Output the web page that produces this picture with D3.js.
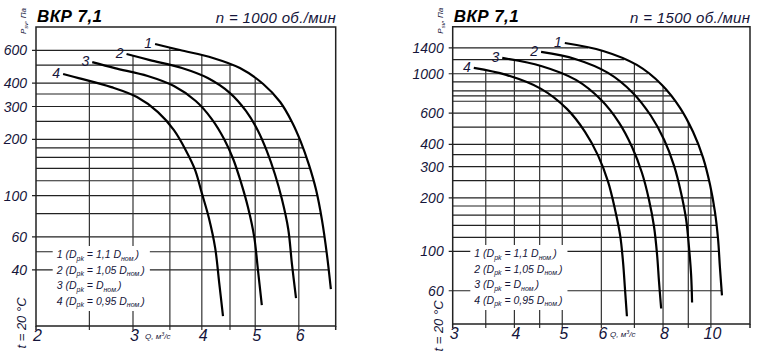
<!DOCTYPE html>
<html lang="ru">
<head>
<meta charset="UTF-8">
<title>ВКР 7,1</title>
<script src="https://d3js.org/d3.v7.min.js"></script>
<style>
  body { margin: 0; background: #fff; }
  svg { display: block; font-family: "Liberation Sans", Arial, sans-serif; }
</style>
</head>
<body>
<div id="chart"></div>
<script>
// curves: [Q m3/s, p Pa], curve 1..4
const curves1000 = [
  [[3.29,649],[3.65,602],[4.19,546],[4.69,482],[5.17,396],[5.55,317],[5.83,248],[6.05,194],[6.26,146],[6.45,107],[6.61,73.9],[6.75,48],[6.86,31.5]],
  [[2.92,573],[3.22,532],[3.68,482],[4.10,426],[4.50,354],[4.81,284],[5.06,222],[5.25,173],[5.43,130],[5.59,95.7],[5.74,66.2],[5.83,42.9],[5.93,28.2]],
  [[2.53,519],[2.78,482],[3.19,437],[3.56,386],[3.90,321],[4.17,257],[4.39,201],[4.56,157],[4.71,118],[4.85,86.8],[4.98,59.9],[5.06,39.4],[5.14,25.9]],
  [[2.24,448],[2.39,426],[2.74,381],[3.05,337],[3.33,280],[3.56,224],[3.74,175],[3.89,137],[4.00,103],[4.12,75.8],[4.23,52.3],[4.30,34.4],[4.37,22.6]]
];
const curves1500 = [
  [[5.06,1490],[6.05,1344],[7.08,1121],[7.96,865],[8.66,643],[9.20,471],[9.64,337],[9.96,237],[10.19,167],[10.34,117],[10.43,81.1],[10.53,56.5]],
  [[4.53,1327],[5.31,1211],[6.19,1011],[6.95,780],[7.56,580],[8.04,425],[8.42,304],[8.70,214],[8.91,151],[9.03,105],[9.12,73.2],[9.16,51.6]],
  [[3.78,1227],[4.53,1106],[5.33,923],[5.99,713],[6.52,529],[6.92,388],[7.25,277],[7.49,196],[7.67,138],[7.78,96],[7.85,67.7],[7.93,47.7]],
  [[3.31,1079],[3.85,985],[4.53,822],[5.11,634],[5.56,471],[5.91,346],[6.19,247],[6.39,174],[6.55,123],[6.64,86.5],[6.70,61],[6.76,43.1]]
];

// axis values
const xTicks1000 = [2, 3, 4, 5, 6];
const xGrid1000 = [2.5, 3, 3.5, 4, 4.5, 5, 6];
const yTicks1000 = [40, 60, 100, 200, 300, 400, 600];
const yGrid1000 = [600, 500, 400, 350, 300, 250, 200, 180, 160, 140, 120, 100, 80, 60, 50, 40];

const xTicks1500 = [3, 4, 5, 6, 8, 10];
const xGrid1500 = [3.5, 4, 4.5, 5, 6, 7, 8, 9, 10];
const yTicks1500 = [60, 100, 200, 300, 400, 600, 1000, 1400];
const yGrid1500 = [1400, 1200, 1000, 900, 800, 750, 700, 600, 500, 400, 350, 300, 250, 200, 180, 160, 140, 120, 100, 60];

const curveNames = ["1", "2", "3", "4"];
const legendRatio = ["1,1 ", "1,05 ", "", "0,95 "];

const width = 757, height = 351;
const ink = "#15153a";

const svg = d3.select("#chart").append("svg")
  .attr("width", width)
  .attr("height", height);

function drawPanel(c) {
  const x = d3.scaleLog().domain(c.qDomain).range([c.left, c.right]);
  const y = d3.scaleLog().domain(c.pDomain).range([c.bottom, c.top]);
  const g = svg.append("g");

  // pixel polylines, used to stop the grid at the curves
  const pts = c.curves.map(cv => cv.map(d => [x(d[0]), y(d[1])]));
  function xAtY(pl, yy) {
    for (let i = 1; i < pl.length; i++) {
      const a = pl[i - 1], b = pl[i];
      if ((yy - a[1]) * (yy - b[1]) <= 0) {
        return a[0] + (b[0] - a[0]) * (yy - a[1]) / ((b[1] - a[1]) || 1);
      }
    }
    return yy < pl[0][1] ? pl[0][0] : pl[pl.length - 1][0];
  }
  function yAtX(pl, xx) {
    if (xx < pl[0][0] || xx > pl[pl.length - 1][0]) return null;
    for (let i = 1; i < pl.length; i++) {
      const a = pl[i - 1], b = pl[i];
      if (xx >= a[0] && xx <= b[0]) {
        return a[1] + (b[1] - a[1]) * (xx - a[0]) / ((b[0] - a[0]) || 1);
      }
    }
    return null;
  }

  // horizontal grid
  g.append("g").selectAll("line")
    .data(c.yGrid)
    .join("line")
    .attr("x1", d => c.yTicks.includes(d) ? c.left - 4 : c.left)
    .attr("x2", d => xAtY(pts[0], y(d)))
    .attr("y1", d => y(d))
    .attr("y2", d => y(d))
    .attr("stroke", "#222")
    .attr("stroke-width", 1.2);

  // vertical grid
  g.append("g").selectAll("line")
    .data(c.xGrid)
    .join("line")
    .attr("x1", d => x(d))
    .attr("x2", d => x(d))
    .attr("y1", d => d3.min(pts.map(pl => yAtX(pl, x(d))).filter(v => v !== null)))
    .attr("y2", c.bottom + 4)
    .attr("stroke", "#333")
    .attr("stroke-width", 1.2);

  // frame
  g.append("path")
    .attr("d", `M${c.left},${c.top}H${c.right}V${c.bottom}H${c.left}Z`)
    .attr("fill", "none")
    .attr("stroke", "#222")
    .attr("stroke-width", 1.5);
  g.selectAll("line.edge")
    .data([c.qDomain[0], c.qDomain[1]])
    .join("line")
    .attr("class", "edge")
    .attr("x1", d => x(d)).attr("x2", d => x(d))
    .attr("y1", c.bottom).attr("y2", c.bottom + 4)
    .attr("stroke", "#222").attr("stroke-width", 1.5);

  // legend
  const leg = g.append("g");
  const legText = leg.selectAll("text")
    .data(curveNames)
    .join("text")
    .attr("x", c.legendX)
    .attr("y", (d, i) => c.legendY + i * 15.5)
    .attr("font-size", 10.5)
    .attr("font-style", "italic")
    .attr("fill", ink);
  legText.each(function(d, i) {
    const t = d3.select(this);
    t.append("tspan").text(`${d} (D`);
    t.append("tspan").attr("dy", 2.5).attr("font-size", 7).text("pk");
    t.append("tspan").attr("dy", -2.5).text(` = ${legendRatio[i]}D`);
    t.append("tspan").attr("dy", 2.5).attr("font-size", 7).text("ном.");
    t.append("tspan").attr("dy", -2.5).text(")");
  });
  const bb = leg.node().getBBox();
  leg.insert("rect", "text")
    .attr("x", bb.x - 3).attr("y", bb.y - 2)
    .attr("width", bb.width + 8).attr("height", bb.height + 4)
    .attr("fill", "#fff");

  // curves
  const line = d3.line()
    .x(d => x(d[0]))
    .y(d => y(d[1]))
    .curve(d3.curveCatmullRom.alpha(0.5));
  g.append("g").selectAll("path")
    .data(c.curves)
    .join("path")
    .attr("d", line)
    .attr("fill", "none")
    .attr("stroke", "#000")
    .attr("stroke-width", 2.2);

  // curve numbers
  g.append("g").selectAll("text")
    .data(c.curves)
    .join("text")
    .attr("x", d => x(d[0][0]) - 3)
    .attr("y", d => y(d[0][1]) + 4)
    .attr("text-anchor", "end")
    .attr("font-size", 14)
    .attr("font-style", "italic")
    .attr("fill", ink)
    .text((d, i) => curveNames[i]);

  // tick labels
  g.append("g").selectAll("text")
    .data(c.yTicks)
    .join("text")
    .attr("x", c.left - 9)
    .attr("y", d => y(d))
    .attr("dy", "0.36em")
    .attr("text-anchor", "end")
    .attr("font-size", 14)
    .attr("font-style", "italic")
    .attr("fill", ink)
    .text(d => d);
  g.append("g").selectAll("text")
    .data(c.xTicks)
    .join("text")
    .attr("x", d => x(d) + 1.5)
    .attr("y", c.bottom + 15)
    .attr("text-anchor", "middle")
    .attr("font-size", 16)
    .attr("font-style", "italic")
    .attr("fill", ink)
    .text(d => d);

  // Q label
  const q = g.append("text")
    .attr("x", c.qLabelX)
    .attr("y", c.bottom + 13)
    .attr("font-size", 8)
    .attr("font-style", "italic")
    .attr("fill", ink);
  q.append("tspan").text("Q, м");
  q.append("tspan").attr("dy", -3).attr("font-size", 5.5).text("3");
  q.append("tspan").attr("dy", 3).text("/с");

  // pressure label
  const pl = g.append("text")
    .attr("transform", `translate(${c.left - 10},${c.top - 6}) rotate(-90)`)
    .attr("text-anchor", "middle")
    .attr("font-size", 8)
    .attr("font-style", "italic")
    .attr("fill", ink);
  pl.append("tspan").text("P");
  pl.append("tspan").attr("dy", 2).attr("font-size", 6).text("sv");
  pl.append("tspan").attr("dy", -2).text(", Па");

  // temperature
  g.append("text")
    .attr("transform", `translate(${c.left - 10},${c.tempY}) rotate(-90)`)
    .attr("text-anchor", "middle")
    .attr("font-size", 13)
    .attr("font-style", "italic")
    .attr("fill", ink)
    .text("t = 20 °C");

  // titles
  g.append("text")
    .attr("x", c.left + 1)
    .attr("y", 22)
    .attr("font-size", 17)
    .attr("font-weight", "bold")
    .attr("font-style", "italic")
    .attr("fill", "#000")
    .attr("textLength", 65)
    .text("ВКР 7,1");
  g.append("text")
    .attr("x", c.right)
    .attr("y", 23)
    .attr("text-anchor", "end")
    .attr("font-size", 15)
    .attr("font-style", "italic")
    .attr("fill", ink)
    .attr("textLength", 120)
    .text(c.speed);
}

drawPanel({
  curves: curves1000, qDomain: [2, 7], pDomain: [20, 800],
  left: 36, right: 335.7, top: 27, bottom: 326,
  xTicks: xTicks1000, xGrid: xGrid1000, yTicks: yTicks1000, yGrid: yGrid1000,
  legendX: 56.7, legendY: 258, qLabelX: 145, tempY: 323,
  speed: "n = 1000 об./мин"
});

drawPanel({
  curves: curves1500, qDomain: [3, 12], pDomain: [39, 1840],
  left: 452.7, right: 750, top: 26.7, bottom: 324,
  xTicks: xTicks1500, xGrid: xGrid1500, yTicks: yTicks1500, yGrid: yGrid1500,
  legendX: 474.3, legendY: 257, qLabelX: 610, tempY: 326,
  speed: "n = 1500 об./мин"
});
</script>
</body>
</html>
